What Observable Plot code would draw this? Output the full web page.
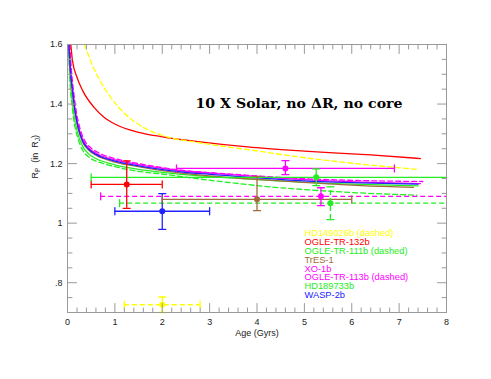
<!DOCTYPE html>
<html>
<head>
<meta charset="utf-8">
<script src="https://cdn.jsdelivr.net/npm/d3@7"></script>
<script src="https://cdn.jsdelivr.net/npm/@observablehq/plot@0.6"></script>
<style>
  html, body { margin: 0; padding: 0; background: #fff; }
  #chart svg { display: block; }
</style>
</head>
<body>
<div id="chart"></div>
<script>
// ---------- data ----------
const planets   = ["HD149026b (dashed)", "OGLE-TR-132b", "OGLE-TR-111b (dashed)", "TrES-1", "XO-1b", "OGLE-TR-113b (dashed)", "HD189733b", "WASP-2b"];
const colors    = ["#ffff00", "#ff0000", "#22ee22", "#a06a3c", "#ff00ff", "#ff00ff", "#22ee22", "#2222ff"];
const dashed    = [true, false, true, false, false, true, false, false];
const age       = [2.0, 1.25, 5.55, 4.0, 4.6, 5.35, 5.25, 2.0];
const ageLo     = [1.2, 0.5, 1.1, 2.0, 2.3, 0.7, 0.5, 1.0];
const ageHi     = [2.8, 2.0, 10, 6.0, 6.9, 10, 10, 3.0];
const radius    = [0.726, 1.13, 1.067, 1.08, 1.184, 1.09, 1.154, 1.04];
const radiusLo  = [0.70, 1.05, 1.012, 1.042, 1.163, 1.059, 1.126, 0.979];
const radiusHi  = [0.752, 1.209, 1.122, 1.157, 1.21, 1.119, 1.182, 1.099];

// evolution tracks [age (Gyr), radius (R_J)]
const evoHD149026b = [[0.36,1.6],[0.5,1.54],[0.7,1.475],[0.9,1.425],[1.1,1.385],[1.38,1.345],[1.6,1.322],[2.1,1.29],[2.7,1.272],[3.9,1.245],[4.9,1.222],[5.8,1.205],[6.6,1.192],[7.42,1.18]];
const evoOGLETR132b = [[0.07,1.6],[0.105,1.546],[0.2,1.49],[0.32,1.445],[0.56,1.389],[0.77,1.356],[1.0,1.333],[1.5,1.305],[2.0,1.29],[2.8,1.273],[3.8,1.256],[5.0,1.242],[6.4,1.229],[7.45,1.217]];
const evoOGLETR111b = [[0.02,1.6],[0.05,1.48],[0.1,1.39],[0.15,1.33],[0.21,1.29],[0.32,1.245],[0.45,1.222],[0.7,1.203],[1.0,1.19],[1.38,1.177],[2.1,1.163],[2.8,1.148],[3.5,1.135],[4.2,1.123],[4.9,1.114],[6.0,1.103],[7.38,1.094]];
const evoTrES1 = [[0.03,1.6],[0.06,1.51],[0.11,1.43],[0.16,1.37],[0.22,1.32],[0.32,1.272],[0.45,1.245],[0.6,1.228],[0.96,1.207],[1.38,1.193],[2.4,1.168],[3.45,1.153],[4.9,1.138],[6.2,1.126],[7.3,1.12]];
const evoXO1b = [[0.03,1.6],[0.06,1.52],[0.11,1.445],[0.16,1.38],[0.22,1.33],[0.32,1.28],[0.45,1.252],[0.6,1.235],[0.96,1.214],[1.38,1.2],[2.4,1.176],[3.45,1.163],[4.9,1.147],[6.2,1.138],[7.45,1.133]];
const evoOGLETR113b = [[0.05,1.6],[0.08,1.52],[0.13,1.44],[0.19,1.37],[0.26,1.32],[0.36,1.278],[0.5,1.252],[0.65,1.237],[1.0,1.217],[1.4,1.203],[2.4,1.178],[3.45,1.165],[4.9,1.15],[6.2,1.143],[7.5,1.14]];
const evoHD189733b = [[0.02,1.6],[0.05,1.5],[0.1,1.41],[0.15,1.35],[0.21,1.305],[0.32,1.258],[0.45,1.232],[0.6,1.217],[1.0,1.196],[1.38,1.184],[2.4,1.164],[3.45,1.152],[4.9,1.138],[6.2,1.13],[7.4,1.125]];
const evoWASP2b = [[0.03,1.6],[0.06,1.515],[0.11,1.44],[0.16,1.375],[0.22,1.325],[0.32,1.276],[0.45,1.248],[0.6,1.231],[0.96,1.21],[1.38,1.196],[2.4,1.172],[3.45,1.159],[4.9,1.143],[6.2,1.135],[7.4,1.131]];

const xTicks = [0, 1, 2, 3, 4, 5, 6, 7, 8];
const xTickLabels = ["0", "1", "2", "3", "4", "5", "6", "7", "8"];
const yTicks = [0.8, 1.0, 1.2, 1.4, 1.6];
const yTickLabels = [".8", "1", "1.2", "1.4", "1.6"];

const titleText = "10 X Solar, no \u0394R, no core";
const xLabel = "Age (Gyrs)";
const yLabel = "R_P (in R_J)";

// ---------- build tables ----------
const obs = planets.map((name, i) => ({
  name, color: colors[i], dashed: dashed[i],
  age: age[i], lo: ageLo[i], hi: ageHi[i],
  r: radius[i], rlo: radiusLo[i], rhi: radiusHi[i]
}));
const tracks = [
  {data: evoOGLETR111b, i: 2},
  {data: evoHD189733b, i: 6},
  {data: evoTrES1, i: 3},
  {data: evoOGLETR113b, i: 5},
  {data: evoXO1b, i: 4},
  {data: evoWASP2b, i: 7},
  {data: evoOGLETR132b, i: 1},
  {data: evoHD149026b, i: 0}
];

const axisGray = "#999";
const lineShape = {draw(ctx, l) { ctx.moveTo(0, 0); ctx.lineTo(0, -l); }};
const minorX = d3.range(0, 8.0001, 0.2).map(v => +v.toFixed(2)).filter(v => Math.abs(v - Math.round(v)) > 1e-6);
const minorY = d3.range(0.7, 1.6001, 0.05).map(v => +v.toFixed(2)).filter(v => Math.abs(v * 5 - Math.round(v * 5)) > 1e-6);
const majorY = d3.range(0.8, 1.6001, 0.2).map(v => +v.toFixed(2));

function tickMarks(vals, axis, len) {
  const out = [];
  if (axis === "x") {
    out.push(Plot.vector(vals, {x: d => d, frameAnchor: "bottom", length: len, rotate: 0, anchor: "start", shape: lineShape, stroke: axisGray, strokeWidth: 1}));
    out.push(Plot.vector(vals, {x: d => d, frameAnchor: "top", length: len, rotate: 180, anchor: "start", shape: lineShape, stroke: axisGray, strokeWidth: 1}));
  } else {
    out.push(Plot.vector(vals, {y: d => d, frameAnchor: "left", length: len, rotate: 90, anchor: "start", shape: lineShape, stroke: axisGray, strokeWidth: 1}));
    out.push(Plot.vector(vals, {y: d => d, frameAnchor: "right", length: len, rotate: -90, anchor: "start", shape: lineShape, stroke: axisGray, strokeWidth: 1}));
  }
  return out;
}

const marks = [];
// evolution tracks
for (const t of tracks) {
  marks.push(Plot.line(t.data, {
    x: d => d[0], y: d => d[1], stroke: colors[t.i], strokeWidth: 1.3,
    curve: "monotone-x", clip: true,
    strokeDasharray: dashed[t.i] ? "5,3" : null
  }));
}
// error bars
const solidObs = obs.filter(d => !d.dashed), dashObs = obs.filter(d => d.dashed);
marks.push(Plot.ruleY(solidObs, {y: "r", x1: "lo", x2: "hi", stroke: "color", strokeWidth: 1.3, clip: true}));
marks.push(Plot.ruleY(dashObs, {y: "r", x1: "lo", x2: "hi", stroke: "color", strokeWidth: 1.3, strokeDasharray: "5,3", clip: true}));
marks.push(Plot.ruleX(obs.filter(d => d.name !== planets[2]), {x: "age", y1: "rlo", y2: "rhi", stroke: "color", strokeWidth: 1.3}));
marks.push(Plot.ruleX(obs.filter(d => d.name === planets[2]), {x: "age", y1: "rlo", y2: "rhi", stroke: "color", strokeWidth: 1.3, strokeDasharray: "5,3"}));
// caps
marks.push(Plot.vector(obs, {x: "lo", y: "r", length: 7, rotate: 0, anchor: "middle", shape: lineShape, stroke: "color", strokeWidth: 1.3, clip: true}));
marks.push(Plot.vector(obs, {x: "hi", y: "r", length: 7, rotate: 0, anchor: "middle", shape: lineShape, stroke: "color", strokeWidth: 1.3, clip: true}));
marks.push(Plot.vector(obs, {x: "age", y: "rlo", length: 7, rotate: 90, anchor: "middle", shape: lineShape, stroke: "color", strokeWidth: 1.3}));
marks.push(Plot.vector(obs, {x: "age", y: "rhi", length: 7, rotate: 90, anchor: "middle", shape: lineShape, stroke: "color", strokeWidth: 1.3}));
// points
marks.push(Plot.dot(obs, {x: "age", y: "r", fill: "color", r: 3}));

// frame and ticks
marks.push(Plot.frame({stroke: axisGray, strokeWidth: 1}));
marks.push(...tickMarks(xTicks, "x", 9));
marks.push(...tickMarks(minorX, "x", 4.5));
marks.push(...tickMarks(majorY, "y", 9));
marks.push(...tickMarks(minorY, "y", 4.5));
marks.push(Plot.axisX({ticks: xTicks, tickSize: 0, tickPadding: 6, tickFormat: d => xTickLabels[xTicks.indexOf(d)], label: null, fill: "#222", fontSize: 9}));
marks.push(Plot.axisY({ticks: yTicks, tickSize: 0, tickPadding: 5, tickFormat: d => yTickLabels[yTicks.findIndex(v => Math.abs(v - d) < 1e-9)], label: null, fill: "#222", fontSize: 9}));
marks.push(Plot.text([xLabel], {frameAnchor: "bottom", dy: 23, fill: "#222", fontSize: 9}));
marks.push(Plot.text([yLabel], {frameAnchor: "left", dx: -32, rotate: -90, fill: "#222", fontSize: 9, className: "ylab"}));
// title
marks.push(Plot.text([titleText], {frameAnchor: "top-left", dx: 128, dy: 54.5, textAnchor: "start", fontSize: 13, fontWeight: "bold", fontFamily: "DejaVu Serif, serif", fill: "#000", className: "ttl"}));
// legend
planets.forEach((name, i) => {
  marks.push(Plot.text([name], {frameAnchor: "top-left", dx: 237, dy: 185.3 + i * 8.8, textAnchor: "start", fill: colors[i], fontSize: 9.3}));
});

const chart = Plot.plot({
  width: 491, height: 379,
  marginLeft: 67, marginRight: 45, marginTop: 44, marginBottom: 67,
  x: {domain: [0, 8]},
  y: {domain: [0.7, 1.6]},
  style: {fontFamily: "Liberation Sans, Arial, Helvetica, sans-serif", fontSize: "9px", background: "#fff", color: "#222"},
  marks
});
document.getElementById("chart").appendChild(chart);

// subscripts in y label
const ylab = d3.select(chart).select(".ylab text");
if (!ylab.empty()) {
  ylab.text(null);
  ylab.append("tspan").text("R");
  ylab.append("tspan").attr("font-size", 6.5).attr("dy", 2).text("P");
  ylab.append("tspan").attr("dy", -2).text("  (in  R");
  ylab.append("tspan").attr("font-size", 6.5).attr("dy", 2).text("J");
  ylab.append("tspan").attr("dy", -2).text(")");
}
const ttl = d3.select(chart).select(".ttl text");
if (!ttl.empty()) {
  ttl.attr("textLength", 207).attr("lengthAdjust", "spacingAndGlyphs");
}
</script>
</body>
</html>
